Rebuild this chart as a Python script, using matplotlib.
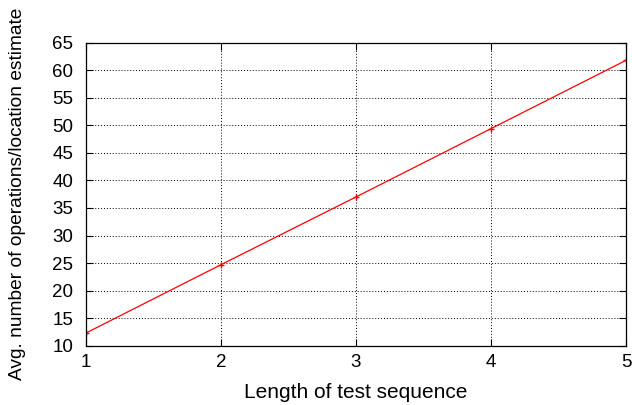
import matplotlib
matplotlib.use('Agg')
import matplotlib.pyplot as plt

# Data
seq_length = [1, 2, 3, 4, 5]
avg_ops = [12.3, 24.7, 37.0, 49.4, 61.8]
x_ticks = [1, 2, 3, 4, 5]
y_ticks = list(range(10, 70, 5))

plt.rcParams['font.family'] = ['Liberation Sans', 'DejaVu Sans']

fig = plt.figure(figsize=(6.32, 4.05), dpi=100)
ax = fig.add_axes([0.136, 0.1464, 0.8545, 0.7482])

ax.plot(seq_length, avg_ops, color='red', linewidth=0.9, marker='+',
        markersize=5, markeredgewidth=1.0)

ax.set_xlim(1, 5)
ax.set_ylim(10, 65)
ax.set_xticks(x_ticks)
ax.set_yticks(y_ticks)
ax.grid(True, color='black', linestyle=(0, (1, 2)), linewidth=0.7)
ax.tick_params(direction='in', length=5, width=0.8, top=True, right=True,
               labelsize=13.5)
ax.tick_params(axis='y', pad=9)
ax.tick_params(axis='x', pad=6)
for s in ax.spines.values():
    s.set_linewidth(0.9)

ax.set_xlabel('Length of test sequence', fontsize=15)
ax.set_ylabel('Avg. number of operations/location estimate', fontsize=13.8)
ax.xaxis.set_label_coords(0.5, -0.156)
ax.xaxis.label.set_va('center')
ax.yaxis.set_label_coords(-0.126, 0.50)
ax.yaxis.label.set_va('center')

fig.savefig('out.png', dpi=100)
